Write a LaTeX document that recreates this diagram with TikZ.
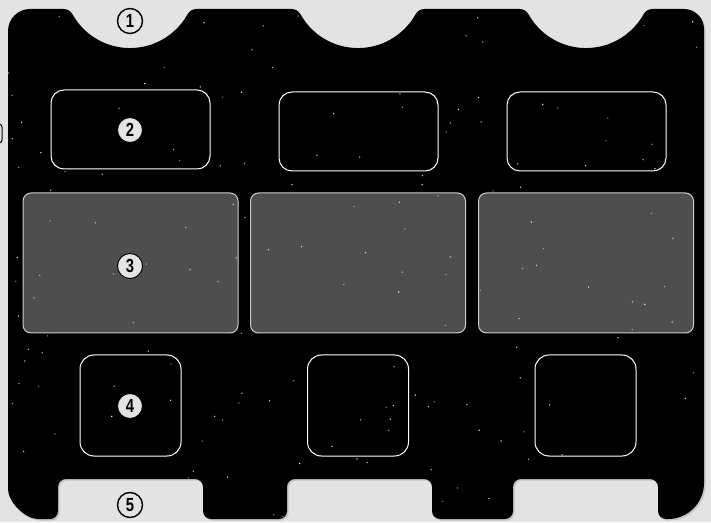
\documentclass[tikz,border=0pt]{standalone}
\usepackage{fontspec}
\newfontfamily\numfont[FakeStretch=0.78]{Liberation Sans}
\usepackage{xcolor}
\definecolor{PanelGray}{RGB}{227,227,227}
\definecolor{CardGray}{RGB}{78,78,78}
\definecolor{EdgeGray}{RGB}{205,205,205}
\definecolor{TagGray}{RGB}{228,228,228}
\usetikzlibrary{shadows}

\newcommand\topnotch[1]{-- ({#1-66.4},513) arc[start angle=90,end angle=29.1,radius=10]
  arc[start angle=209.1,end angle=330.9,radius=66] arc[start angle=150.9,end angle=90,radius=10]}
\newcommand\boardpath{(8,60) -- (8,491) arc[start angle=180,end angle=90,radius=22]
  \topnotch{130} \topnotch{358} \topnotch{586}
  -- (684,513) arc[start angle=90,end angle=0,radius=20]
  -- (704,39) arc[start angle=0,end angle=-90,radius=36]
  [rounded corners=8pt] -- (658,3) -- (658,43) -- (513,43) -- (513,3)
  -- (432,3) -- (432,43) -- (287,43) -- (287,3)
  -- (203,3) -- (203,43) -- (58,43) -- (58,3)
  -- (46,3) arc[start angle=270,end angle=180,radius=38] -- cycle}

\begin{document}
\begin{tikzpicture}[
    x=1pt, y=1pt,
    slot/.style={rectangle, draw=white, line width=1pt, rounded corners=13pt,
                 minimum width=159pt, minimum height=79pt, inner sep=0pt},
    card/.style={rectangle, draw=EdgeGray, fill=CardGray, line width=1pt, rounded corners=8pt,
                 minimum width=215pt, minimum height=140pt, inner sep=0pt},
    tok/.style={rectangle, draw=white, line width=1pt, rounded corners=14pt,
                minimum size=101pt, inner sep=0pt},
    numout/.style={circle, draw=black, line width=1.4pt, minimum size=25pt, inner sep=0pt,
                   font=\numfont\bfseries\fontsize{19}{19}\selectfont},
    numin/.style={numout, fill=TagGray, line width=.9pt}
]
    \fill[PanelGray] (0,0) rectangle (711,522);
    \useasboundingbox (0,0) rectangle (711,522);
    \draw[line width=1pt, rounded corners=3pt] (-20,398) rectangle (2,379);

    \fill[black, drop shadow={shadow xshift=1.5pt, shadow yshift=-1.5pt, opacity=.3}] \boardpath;

    \node[card] (cardA) at (130.5,259) {};
    \node[card] (cardB) at (358,259) {};
    \node[card] (cardC) at (586,259) {};
    \node[slot] (slotA) at (130.5,392.5) {};
    \node[slot] (slotB) at (358.5,390.5) {};
    \node[slot] (slotC) at (586.5,390.5) {};
    \node[tok] (tokA) at (130.5,116.5) {};
    \node[tok] (tokB) at (358,116.5) {};
    \node[tok] (tokC) at (585.5,116.5) {};

    \begin{scope}
        \clip \boardpath;
        \pgfmathsetseed{11}
        \foreach \k in {1,...,170}{
            \pgfmathsetmacro\sx{8+696*rnd}
            \pgfmathsetmacro\sy{3+510*rnd}
            \pgfmathsetmacro\so{0.45+0.55*rnd}
            \fill[white, opacity=\so] (\sx,\sy) circle[radius=0.75];
        }
    \end{scope}

    \node[numout] (n1) at (130,501) {1};
    \node[numin] (n2) at (130,392) {2};
    \node[numin] (n3) at (130,256) {3};
    \node[numin] (n4) at (130,116) {4};
    \node[numout] (n5) at (130,17) {5};
\end{tikzpicture}
\end{document}
